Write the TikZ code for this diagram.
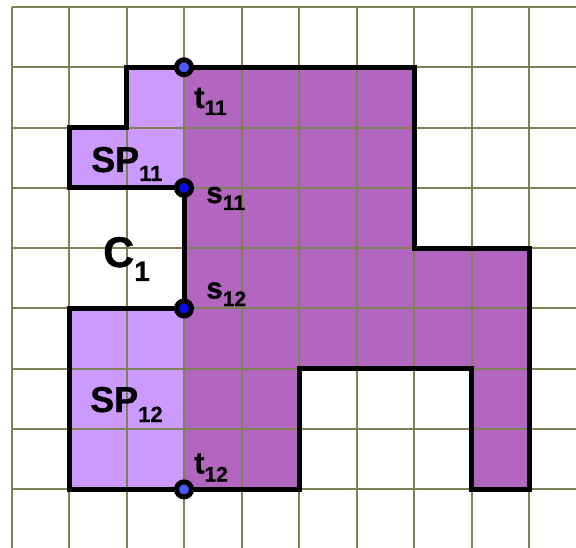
\documentclass[tikz,border=0pt]{standalone}
\usepackage{fontspec}
\setmainfont{Liberation Sans}
\newfontfamily\heavyfont{Liberation Sans Bold}[FakeBold=0.8]
\definecolor{gridc}{RGB}{128,128,85}
\definecolor{lightp}{RGB}{204,153,255}
\definecolor{darkp}{RGB}{179,102,192}
\definecolor{tblue}{RGB}{77,90,255}
\definecolor{sblue}{RGB}{10,10,240}
\tikzset{
  gridline/.style={draw=gridc, line width=2pt},
  outline/.style={draw=black, line width=5pt, line join=miter},
  dot/.style={circle, draw=black, line width=5pt, minimum size=15pt, inner sep=0pt},
  lbl/.style={inner sep=0pt, anchor=base west, font=\heavyfont}
}
\begin{document}
\begin{tikzpicture}[x=1pt,y=-1pt]
\useasboundingbox (0,0) rectangle (576,548);
\fill[white] (0,0) rectangle (576,548);
\begin{scope}[shift={(11.5pt,-7pt)}, x=57.5pt, y=-60.3pt]
  % fills
  \fill[darkp] (2,1) -- (7,1) -- (7,4) -- (9,4) -- (9,8) -- (8,8) -- (8,6) -- (5,6) -- (5,8) -- (1,8) -- (1,5) -- (3,5) -- (3,3) -- (1,3) -- (1,2) -- (2,2) -- cycle;
  \fill[lightp] (2,1) rectangle (3,2);
  \fill[lightp] (1,2) rectangle (3,3);
  \fill[lightp] (1,5) rectangle (3,8);
  % grid
  \foreach \i in {0,...,9} \draw[gridline] (\i,0) -- (\i,9.05);
  \foreach \j in {0,...,8} \draw[gridline] (0,\j) -- (9.82,\j);
  % outline
  \draw[outline] (2,1) -- (7,1) -- (7,4) -- (9,4) -- (9,8) -- (8,8) -- (8,6) -- (5,6) -- (5,8) -- (1,8) -- (1,5) -- (3,5) -- (3,3) -- (1,3) -- (1,2) -- (2,2) -- cycle;
  % points
  \node[dot, fill=tblue] (t11) at (3,1) {};
  \node[dot, fill=sblue] (s11) at (3,3) {};
  \node[dot, fill=sblue] (s12) at (3,5) {};
  \node[dot, fill=tblue] (t12) at (3,8) {};
\end{scope}
% labels
\node[lbl] (lt11) at (194,108) {\fontsize{31}{31}\selectfont t\raisebox{-7pt}{\fontsize{21}{21}\selectfont 11}};
\node[lbl] (ls11) at (206,203) {\fontsize{30}{30}\selectfont s\raisebox{-7pt}{\fontsize{21}{21}\selectfont 11}};
\node[lbl] (ls12) at (206,298.5) {\fontsize{30}{30}\selectfont s\raisebox{-7.5pt}{\fontsize{21}{21}\selectfont 12}};
\node[lbl] (lt12) at (194,473.5) {\fontsize{31}{31}\selectfont t\raisebox{-8pt}{\fontsize{21}{21}\selectfont 12}};
\node[lbl] (lsp11) at (91,172) {\fontsize{36}{36}\selectfont SP\raisebox{-9pt}{\fontsize{22}{22}\selectfont 11}};
\node[lbl] (lsp12) at (90,412) {\fontsize{36}{36}\selectfont SP\raisebox{-10pt}{\fontsize{22}{22}\selectfont 12}};
\node[lbl] (lc1) at (103,267) {\fontsize{43}{43}\selectfont C\raisebox{-14pt}{\fontsize{28}{28}\selectfont 1}};
\end{tikzpicture}
\end{document}
